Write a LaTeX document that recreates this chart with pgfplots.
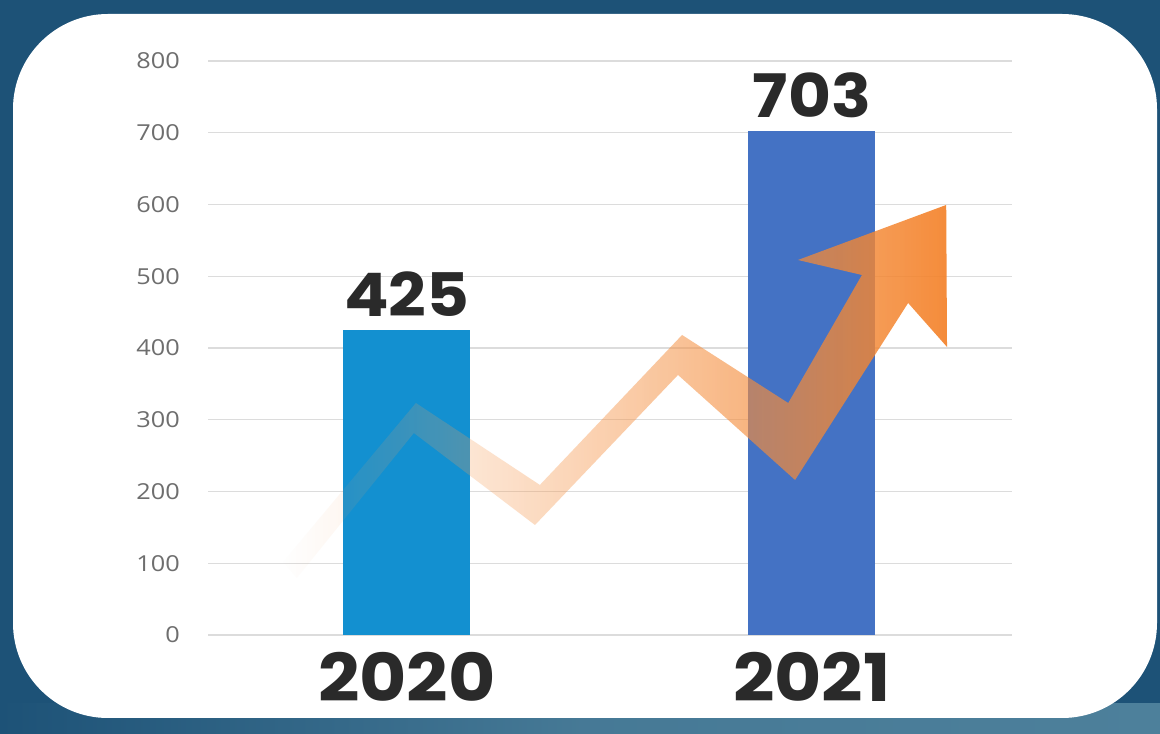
\documentclass[border=0pt]{standalone}
\usepackage{fontspec}
\setmainfont{Open Sans}
\newfontfamily\tickfont{Open Sans}[FakeStretch=1.15]
\newfontfamily\bigfont{Poppins}[FakeStretch=1.1]
\usepackage{pgfplots}
\pgfplotsset{compat=1.18}
\usetikzlibrary{fadings}

\definecolor{bg}{HTML}{1D5277}
\definecolor{band}{HTML}{4D809B}
\definecolor{bar20}{HTML}{1390D0}
\definecolor{bar21}{HTML}{4472C4}
\definecolor{arrowor}{HTML}{F4822A}
\definecolor{arrowlt}{HTML}{F7A869}
\definecolor{gridgray}{HTML}{DCDCDC}
\definecolor{tickgray}{HTML}{6E6E6E}
\definecolor{txt}{HTML}{2A2A2A}

\begin{document}
\begin{tikzpicture}[x=1pt,y=1pt]
  % backdrop and white card
  \fill[bg] (0,0) rectangle (1160,734);
  \fill[left color=bg, right color=band, middle color=band!85!bg] (0,0) rectangle (1160,30);
  \fill[white, rounded corners=95pt] (13,16) rectangle (1157,720);

  \begin{axis}[
      at={(208pt,99pt)}, anchor=south west,
      scale only axis,
      width=804pt, height=574pt,
      xmin=-0.491, xmax=1.494,
      ymin=0, ymax=800,
      xtick={0,1},
      xticklabels={2020,2021},
      ytick={0,100,...,800},
      ymajorgrids=true,
      grid style={color=gridgray, line width=1.4pt},
      axis line style={draw=none},
      tick style={draw=none},
      /pgf/number format/assume math mode=true,
      yticklabel style={font=\tickfont\fontsize{22}{22}\selectfont, color=tickgray,
        anchor=east, inner sep=0pt, xshift=-28pt},
      xticklabel style={font=\bigfont\bfseries\fontsize{66}{66}\selectfont,
        color=txt, anchor=north, inner sep=0pt, yshift=-17pt},
      clip=false,
    ]
    % bars
    \addplot[ybar, bar width=127pt, bar shift=0pt, fill=bar20, draw=none,
      nodes near coords,
      nodes near coords style={font=\bigfont\bfseries\fontsize{60}{60}\selectfont,
        color=txt, anchor=south, inner sep=0pt, yshift=13pt}]
      coordinates {(0,425)};
    \addplot[ybar, bar width=127pt, bar shift=0pt, fill=bar21, draw=none,
      nodes near coords,
      nodes near coords style={font=\bigfont\bfseries\fontsize{60}{60}\selectfont,
        color=txt, anchor=south, inner sep=0pt, yshift=13pt}]
      coordinates {(1,703)};
    % decorative rising arrow
    \addplot[draw=none, mark=none, sharp plot, left color=arrowlt, right color=arrowor,
      path fading=west, fill opacity=0.92, forget plot]
      coordinates {
        (-0.306,101.7) (0.022,323.3) (0.328,209.1) (0.679,418.1)
        (0.941,323.3) (1.123,501.7) (0.965,522.6) (1.331,599.3)
        (1.333,401.4) (1.237,462.7) (0.958,216.0) (0.669,362.4)
        (0.316,153.3) (0.017,281.5) (-0.272,79.4)
      } -- cycle;
  \end{axis}
\end{tikzpicture}
\end{document}
